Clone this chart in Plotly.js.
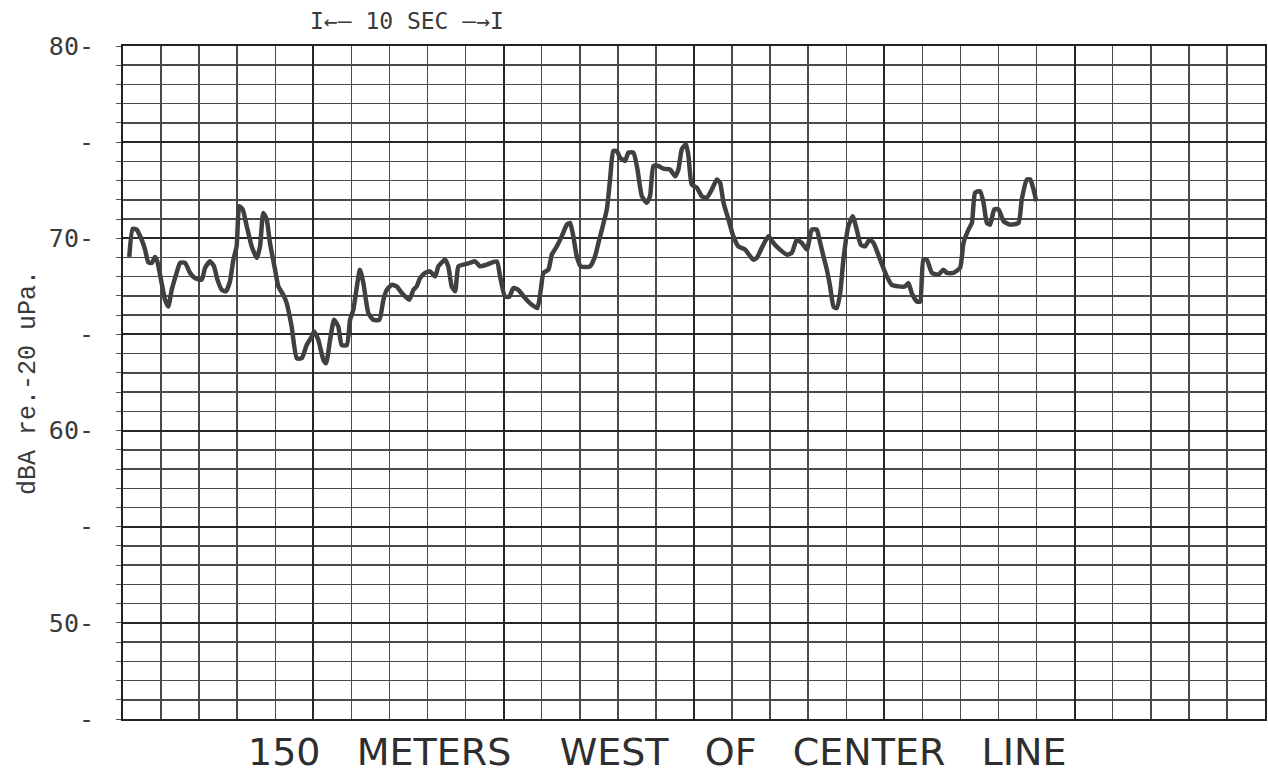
<!DOCTYPE html>
<html><head><meta charset="utf-8">
<script src="https://cdn.plot.ly/plotly-3.0.1.min.js"></script>
<style>html,body{margin:0;padding:0;background:#fff;}#chart{width:1268px;height:774px;}</style>
</head><body><div id="chart"></div>
<script>
// Elapsed time on the strip chart (seconds) and sound level (dBA re 20 uPa)
const timeSec = [
  0.33,0.51,0.72,0.86,0.98,1.16,1.33,1.51,1.68,1.80,
  2.03,2.21,2.38,2.56,2.79,3.00,3.26,3.52,3.78,4.14,
  4.31,4.57,4.78,4.96,5.19,5.41,5.62,5.80,5.97,6.11,
  6.29,6.50,6.76,7.03,7.20,7.37,7.55,7.72,7.99,8.16,
  8.42,8.60,8.86,9.13,9.39,9.65,9.92,10.04,10.26,10.53,
  10.67,10.88,11.09,11.31,11.49,11.76,11.93,12.10,
  12.45,12.63,12.89,13.15,13.47,13.68,13.86,14.12,14.38,14.65,
  15.04,15.26,15.43,15.61,15.87,16.13,16.40,16.57,16.92,17.09,
  17.27,17.45,17.62,17.88,18.23,18.50,18.76,19.11,19.64,19.81,
  20.07,20.30,20.51,20.77,21.12,21.48,21.77,21.95,22.09,22.35,
  22.53,22.79,23.05,23.32,23.49,23.66,23.84,24.05,24.54,24.80,
  24.98,25.16,25.42,25.59,25.76,25.94,26.12,26.38,26.55,26.82,
  27.03,27.26,27.52,27.69,27.87,28.13,28.39,28.74,29.01,29.18,
  29.36,29.58,29.71,29.88,30.15,30.41,30.67,30.94,31.20,31.37,
  31.55,31.81,32.07,32.33,32.69,32.95,33.12,33.30,33.56,33.91,
  34.17,34.52,34.88,35.14,35.40,35.66,35.93,36.19,36.45,36.59,
  36.80,36.98,37.15,37.33,37.50,37.68,37.85,38.11,38.34,38.55,
  38.76,38.99,39.22,39.43,39.78,40.13,40.39,40.74,41.09,41.27,
  41.44,41.71,41.88,42.05,42.23,42.50,42.84,43.11,43.28,43.63,
  43.98,44.16,44.42,44.60,44.77,45.03,45.21,45.39,45.56,45.77,
  46.00,46.26,46.61,47.05,47.22,47.49,47.66,47.84,47.98
];
const levelDbA = [
  69.03,70.49,70.45,70.19,69.93,69.41,68.75,68.72,69.03,68.80,
  67.67,66.80,66.45,67.32,68.11,68.72,68.72,68.20,67.93,67.85,
  68.46,68.80,68.54,67.85,67.32,67.24,67.76,68.89,69.58,71.67,
  71.50,70.63,69.58,68.98,69.58,71.32,70.98,69.76,68.37,67.50,
  67.06,66.63,65.41,63.76,63.76,64.45,64.89,65.15,64.72,63.67,
  63.50,64.72,65.76,65.41,64.45,64.45,65.76,66.28,
  68.37,67.67,66.11,65.76,65.76,66.80,67.32,67.58,67.50,67.15,
  66.80,67.32,67.50,67.93,68.20,68.28,68.02,68.54,68.89,68.54,
  67.50,67.24,68.54,68.63,68.72,68.80,68.54,68.63,68.80,68.02,
  66.97,66.97,67.41,67.32,66.89,66.54,66.37,67.32,68.20,68.37,
  69.15,69.58,70.10,70.71,70.80,70.10,69.06,68.54,68.54,69.06,
  69.76,70.45,71.50,73.06,74.54,74.54,74.19,74.02,74.45,74.45,
  73.58,72.19,71.85,72.19,73.76,73.76,73.62,73.58,73.23,73.58,
  74.63,74.89,74.28,72.80,72.63,72.19,72.11,72.54,73.06,72.89,
  71.85,70.98,70.10,69.58,69.41,69.06,68.89,68.98,69.50,70.10,
  69.76,69.41,69.15,69.24,69.93,69.76,69.41,70.45,70.45,69.93,
  69.06,68.37,67.50,66.45,66.37,67.15,68.89,70.63,71.15,70.45,
  69.67,69.58,69.93,69.76,68.89,68.02,67.58,67.50,67.50,67.67,
  67.15,66.71,66.71,68.89,68.89,68.20,68.11,68.37,68.20,68.20,
  68.46,69.76,70.45,70.80,72.37,72.45,71.85,70.80,70.71,71.50,
  71.50,70.89,70.71,70.80,72.02,73.06,73.06,72.54,71.93
];
const yTickVals = [45, 50, 55, 60, 65, 70, 75, 80];
const yTickText = ['-', '50-', '-', '60-', '-', '70-', '-', '80-'];
const xRange = [0, 60];
const yRange = [45, 80];
const yTitle = 'dBA re.-20 uPa.';
const xTitle = '150\u00a0\u00a0\u00a0METERS\u00a0\u00a0\u00a0\u00a0WEST\u00a0\u00a0\u00a0OF\u00a0\u00a0\u00a0CENTER\u00a0\u00a0\u00a0LINE';
const timeScaleLabel = 'I\u2190\u2014 10 SEC \u2014\u2192I';

const trace = {
  x: timeSec, y: levelDbA, type: 'scatter', mode: 'lines',
  line: {color: '#404040', width: 4.5, shape: 'spline', smoothing: 0.5},
  hoverinfo: 'x+y', showlegend: false
};

const layout = {
  width: 1268, height: 774,
  margin: {l: 123, r: 3, t: 46, b: 55},
  paper_bgcolor: '#ffffff', plot_bgcolor: '#ffffff',
  showlegend: false,
  xaxis: {
    range: xRange, tickmode: 'linear', tick0: 0, dtick: 10,
    showticklabels: false, ticks: '',
    showgrid: true, gridcolor: '#262626', gridwidth: 2,
    minor: {tick0: 0, dtick: 2, showgrid: true, gridcolor: '#4a4a4a', gridwidth: 1.5},
    zeroline: false, showline: true, linecolor: '#222', linewidth: 2, mirror: true,
    fixedrange: true
  },
  yaxis: {
    range: yRange, tickmode: 'array', tickvals: yTickVals, ticktext: yTickText,
    ticks: '', ticklabelstandoff: 22,
    tickfont: {family: 'DejaVu Sans Mono, monospace', size: 25, color: '#3a3a3a'},
    showgrid: true, gridcolor: '#262626', gridwidth: 2,
    minor: {tick0: 45, dtick: 1, showgrid: true, gridcolor: '#4a4a4a', gridwidth: 1.5,
            ticks: 'outside', ticklen: 5, tickcolor: '#555', tickwidth: 1},
    zeroline: false, showline: true, linecolor: '#222', linewidth: 2, mirror: true,
    title: {text: yTitle, standoff: 6,
            font: {family: 'Liberation Mono, Courier New, monospace', size: 25, color: '#3a3a3a'}},
    fixedrange: true
  },
  annotations: [
    {text: xTitle, xref: 'paper', yref: 'paper', x: 0.4676, y: -0.049,
     xanchor: 'center', yanchor: 'middle', showarrow: false,
     font: {family: 'DejaVu Sans, sans-serif', size: 38, color: '#2e2e2e'}},
    {text: timeScaleLabel, xref: 'paper', yref: 'paper', x: 0.2487, y: 1.037,
     xanchor: 'center', yanchor: 'middle', showarrow: false,
     font: {family: 'DejaVu Sans Mono, monospace', size: 23, color: '#3a3a3a'}}
  ]
};

Plotly.newPlot('chart', [trace], layout, {displayModeBar: false, staticPlot: true});
</script>
</body></html>
